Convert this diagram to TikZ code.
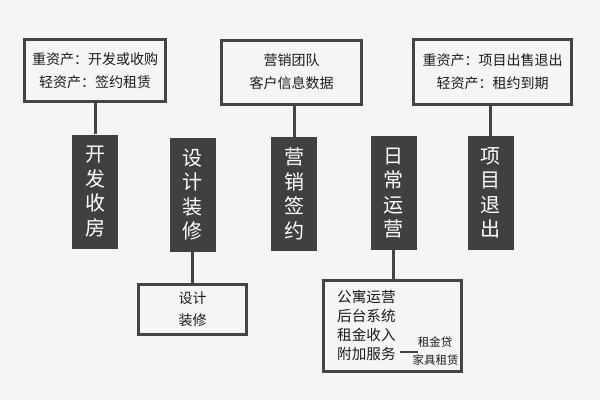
\documentclass[tikz,border=0pt]{standalone}
\usepackage{fontspec}
\setmainfont{Noto Sans CJK SC}
\definecolor{bg}{HTML}{F5F5F5}
\definecolor{edge}{HTML}{444444}
\definecolor{dark}{HTML}{404040}
\definecolor{ink}{HTML}{1A1A1A}
\begin{document}
\begin{tikzpicture}[x=1pt,y=-1pt,
  wbox/.style={draw=edge, line width=3pt, fill=bg, inner sep=0pt, align=center,
    text=ink, font=\fontsize{14}{23}\selectfont},
  dbox/.style={fill=dark, inner sep=0pt, align=center, text=white,
    minimum width=46pt, minimum height=114pt, font=\fontsize{20}{24.5}\selectfont},
  conn/.style={draw=edge, line width=3pt},
  small/.style={inner sep=0pt, text=ink, font=\fontsize{11.5}{13}\selectfont}]
\fill[bg] (0,0) rectangle (600,400);
\useasboundingbox (0,0) rectangle (600,400);
% top boxes
\node[wbox, minimum width=141pt, minimum height=62pt] (B1) at (95,70.5)
  {重资产：开发或收购\\轻资产：签约租赁};
\node[wbox, minimum width=140pt, minimum height=64pt] (B2) at (291.5,72)
  {营销团队\\客户信息数据};
\node[wbox, minimum width=158pt, minimum height=65pt] (B3) at (492.5,72)
  {重资产：项目出售退出\\轻资产：租约到期};
% dark boxes
\node[dbox] (D1) at (95,191.5) {开\\发\\收\\房};
\node[dbox] (D2) at (192.5,194.5) {设\\计\\装\\修};
\node[dbox] (D3) at (294,194) {营\\销\\签\\约};
\node[dbox] (D4) at (393.5,193) {日\\常\\运\\营};
\node[dbox] (D5) at (490.5,193) {项\\目\\退\\出};
% bottom boxes
\node[wbox, minimum width=108pt, minimum height=50pt, font=\fontsize{14}{22}\selectfont] (E1) at (192.5,309.5)
  {设计\\装修};
\node[wbox, minimum width=138pt, minimum height=91pt] (E2) at (392.5,326) {};
\node[anchor=west, inner sep=0pt, align=left, text=ink, font=\fontsize{14.6}{19}\selectfont] (E2t) at (337,325.5)
  {公寓运营\\后台系统\\租金收入\\附加服务};
\node[small] (L1) at (435,342) {租金贷};
\node[small] (L2) at (435.5,360) {家具租赁};
\coordinate (fj) at (400,352);
\coordinate (fjend) at (418,352);
% connectors
\draw[conn] (B1.south -| D1.north) -- (D1.north);
\draw[conn] (B2.south -| D3.north) -- (D3.north);
\draw[conn] (B3.south -| D5.north) -- (D5.north);
\draw[conn] (D2.south) -- (D2.south |- E1.north);
\draw[conn] (D4.south) -- (D4.south |- E2.north);
\draw[edge, line width=2.5pt] (fj) -- (fjend);
\end{tikzpicture}
\end{document}
